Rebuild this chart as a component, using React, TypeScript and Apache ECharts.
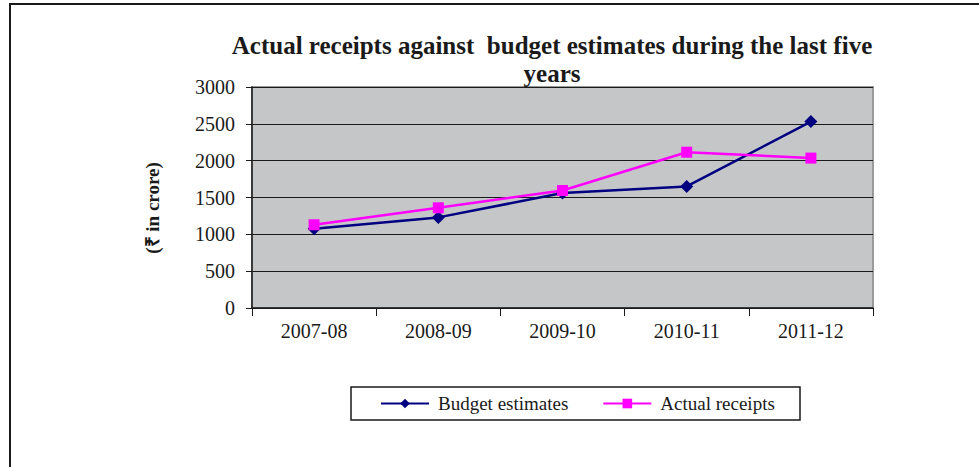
import React, { useEffect, useRef } from "react";
import * as echarts from "echarts";

const categories = ["2007-08", "2008-09", "2009-10", "2010-11", "2011-12"];
const budgetEstimates = [1075, 1230, 1560, 1650, 2530];
const actualReceipts = [1130, 1360, 1595, 2115, 2035];
const yTicks = { min: 0, max: 3000, interval: 500 };

const FONT = "'Liberation Serif', 'Times New Roman', serif";

export default function App() {
  const ref = useRef<HTMLDivElement>(null);
  useEffect(() => {
    if (!ref.current) return;
    const chart = echarts.init(ref.current, undefined, { renderer: "svg" });
    chart.setOption({
      animation: false,
      backgroundColor: "#ffffff",
      title: {
        text: "Actual receipts against  budget estimates during the last five\nyears",
        left: 552,
        top: 31,
        padding: 0,
        textAlign: "center",
        textStyle: {
          fontFamily: FONT,
          fontSize: 25,
          fontWeight: "bold",
          color: "#1a1a1a",
          lineHeight: 28,
        },
      },
      grid: {
        left: 252,
        right: 106,
        top: 87,
        bottom: 159,
        show: true,
        backgroundColor: "#c5c6c8",
        borderColor: "#9a9a9a",
        borderWidth: 2,
      },
      legend: {
        left: 380,
        top: 394,
        padding: 0,
        itemWidth: 48,
        itemHeight: 12,
        itemGap: 34,
        textStyle: { fontFamily: FONT, fontSize: 19, color: "#1a1a1a", padding: [0, 0, 0, 4] },
        data: ["Budget estimates", "Actual receipts"],
      },
      xAxis: {
        type: "category",
        data: categories,
        boundaryGap: true,
        axisLine: { show: true, lineStyle: { color: "#1a1a1a", width: 1.5 } },
        axisTick: { show: true, length: 8, alignWithLabel: false, lineStyle: { color: "#1a1a1a" } },
        axisLabel: { fontFamily: FONT, fontSize: 20, color: "#1a1a1a", margin: 13 },
        splitLine: { show: false },
      },
      yAxis: {
        type: "value",
        min: yTicks.min,
        max: yTicks.max,
        interval: yTicks.interval,
        axisLine: { show: true, lineStyle: { color: "#1a1a1a", width: 1.5 } },
        axisTick: { show: true, length: 6, lineStyle: { color: "#1a1a1a" } },
        axisLabel: {
          fontFamily: FONT,
          fontSize: 20,
          color: "#1a1a1a",
          margin: 17,
          formatter: (v: number) => String(v),
        },
        splitLine: { show: true, lineStyle: { color: "#1a1a1a", width: 1.2 } },
      },
      series: [
        {
          name: "Budget estimates",
          type: "line",
          data: budgetEstimates,
          symbol: "diamond",
          symbolSize: 13,
          itemStyle: { color: "#000080" },
          lineStyle: { color: "#000080", width: 2.5 },
          z: 3,
        },
        {
          name: "Actual receipts",
          type: "line",
          data: actualReceipts,
          symbol: "rect",
          symbolSize: 11,
          itemStyle: { color: "#ff00ff" },
          lineStyle: { color: "#ff00ff", width: 2.5 },
          z: 4,
        },
      ],
      graphic: [
        {
          type: "rect",
          shape: { x: 10, y: 4, width: 1000, height: 500 },
          style: { fill: "none", stroke: "#1a1a1a", lineWidth: 2 },
          silent: true,
        },
        {
          type: "rect",
          shape: { x: 351, y: 387, width: 449, height: 33 },
          style: { fill: "none", stroke: "#1a1a1a", lineWidth: 1.5 },
          silent: true,
        },
        {
          type: "text",
          x: 152,
          y: 208,
          rotation: Math.PI / 2,
          style: {
            text: "(₹ in crore)",
            fontFamily: FONT,
            fontSize: 19,
            fontWeight: "bold",
            fill: "#1a1a1a",
            textAlign: "center",
            textVerticalAlign: "middle",
          },
        },
      ],
    });
    return () => chart.dispose();
  }, []);
  return (
    <div
      ref={ref}
      style={{ position: "fixed", left: 0, top: 0, width: 979, height: 467 }}
    />
  );
}
